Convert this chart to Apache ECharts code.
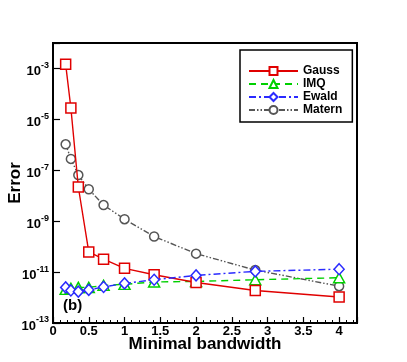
<!DOCTYPE html>
<html>
<head>
<meta charset="utf-8">
<script src="https://cdn.jsdelivr.net/npm/echarts@6/dist/echarts.min.js"></script>
<style>
  html, body { margin: 0; padding: 0; background: #fff; }
  #myChart { width: 407px; height: 362px; }
</style>
</head>
<body>
<div id="myChart"></div>
<script>
// minimal bandwidth (x) and the error of each kernel
var bandwidth = [0.177, 0.25, 0.354, 0.5, 0.707, 1, 1.414, 2, 2.828, 4];
var gauss  = [1.45e-3, 2.8e-5, 2.2e-8, 6.2e-11, 3.2e-11, 1.4e-11, 7.9e-12, 3.9e-12, 1.9e-12, 1.05e-12];
var imq    = [2.1e-12, 2.3e-12, 2.5e-12, 2.5e-12, 3.0e-12, 3.3e-12, 4.1e-12, 4.3e-12, 5.0e-12, 6.0e-12];
var ewald  = [2.5e-12, 1.9e-12, 1.7e-12, 2.0e-12, 2.6e-12, 3.6e-12, 5.0e-12, 7.4e-12, 1.07e-11, 1.3e-11];
var matern = [1.05e-6, 2.8e-7, 6.5e-8, 1.8e-8, 4.3e-9, 1.2e-9, 2.5e-10, 5.3e-11, 1.2e-11, 2.8e-12];
var names  = ['Gauss', 'IMQ', 'Ewald', 'Matern'];

function pairs(ys) {
	return bandwidth.map(function(x, i) { return [x, ys[i]]; });
}

var font = 'Liberation Sans, Arial, sans-serif';
var myChart = echarts.init(document.getElementById('myChart'));

var option = {
	animation: false,
	backgroundColor: '#fff',
	grid: {
		left: 53, top: 43, right: 50, bottom: 39,
		outerBoundsMode: 'none', containLabel: false,
		show: true, borderColor: '#000', borderWidth: 2
	},
	legend: {
		orient: 'vertical',
		left: 240, top: 50,
		padding: [15, 10, 6, 8],
		itemWidth: 49, itemHeight: 10, itemGap: 1,
		borderColor: '#000', borderWidth: 1.5,
		backgroundColor: '#fff',
		textStyle: { fontFamily: font, fontWeight: 'bold', fontSize: 12, lineHeight: 10, color: '#000', padding: [0, 0, 0, 0] },
		data: names
	},
	xAxis: {
		type: 'value',
		min: 0, max: 4.25, interval: 0.5,
		name: 'Minimal bandwidth',
		nameLocation: 'middle', nameGap: 13, nameMoveOverlap: false,
		nameTextStyle: { fontFamily: font, fontWeight: 'bold', fontSize: 17, color: '#000' },
		axisLine: { lineStyle: { color: '#000', width: 2 } },
		axisTick: { inside: true, length: 6, lineStyle: { color: '#000', width: 1.2 } },
		minorTick: { show: true, splitNumber: 5, length: 3, lineStyle: { color: '#000', width: 1 } },
		axisLabel: {
			fontFamily: font, fontWeight: 'bold', fontSize: 13, color: '#000', margin: 2,
			showMaxLabel: false
		},
		splitLine: { show: false }
	},
	yAxis: {
		type: 'log',
		min: 1e-13, max: 1e-2, interval: 2,
		name: 'Error',
		nameLocation: 'middle', nameGap: 29, nameRotate: 90, nameMoveOverlap: false,
		nameTextStyle: { fontFamily: font, fontWeight: 'bold', fontSize: 17, color: '#000' },
		axisLine: { lineStyle: { color: '#000', width: 2 } },
		axisTick: { inside: true, length: 7, lineStyle: { color: '#000', width: 1.2 } },
		axisLabel: {
			margin: 4,
			formatter: function(v) {
				var e = Math.round(Math.log10(v));
				if (e % 2 === 0) return '';
				return '{b|10}{s|' + e + '}';
			},
			rich: {
				b: { fontFamily: font, fontWeight: 'bold', fontSize: 13, color: '#000', padding: [6, 0, 0, 0] },
				s: { fontFamily: font, fontWeight: 'bold', fontSize: 9, color: '#000', padding: [0, 0, 6, 0] }
			}
		},
		splitLine: { show: false }
	},
	graphic: [{
		type: 'text', left: 63, top: 298,
		style: { text: '(b)', fontFamily: font, fontWeight: 'bold', fontSize: 15, fill: '#000' }
	}],
	series: [{
		name: 'Gauss', type: 'line', data: pairs(gauss),
		symbol: 'rect', symbolSize: 10,
		itemStyle: { color: '#fff', borderColor: '#e00000', borderWidth: 1.5 },
		lineStyle: { color: '#e00000', width: 1.4, type: 'solid' },
		color: '#e00000', z: 4
	}, {
		name: 'IMQ', type: 'line', data: pairs(imq),
		symbol: 'triangle', symbolSize: [11, 10],
		itemStyle: { color: '#fff', borderColor: '#00d000', borderWidth: 1.5 },
		lineStyle: { color: '#00d000', width: 1.4, type: [7, 5] },
		color: '#00d000', z: 3
	}, {
		name: 'Ewald', type: 'line', data: pairs(ewald),
		symbol: 'diamond', symbolSize: [10, 11],
		itemStyle: { color: '#fff', borderColor: '#2a2aff', borderWidth: 1.5 },
		lineStyle: { color: '#2a2aff', width: 1.4, type: [7, 3, 2, 3] },
		color: '#2a2aff', z: 5
	}, {
		name: 'Matern', type: 'line', data: pairs(matern),
		symbol: 'circle', symbolSize: 9,
		itemStyle: { color: '#fff', borderColor: '#555', borderWidth: 1.5 },
		lineStyle: { color: '#555', width: 1.4, type: [6, 2, 1.5, 2, 1.5, 2] },
		color: '#555', z: 2
	}]
};

myChart.setOption(option);
</script>
</body>
</html>
